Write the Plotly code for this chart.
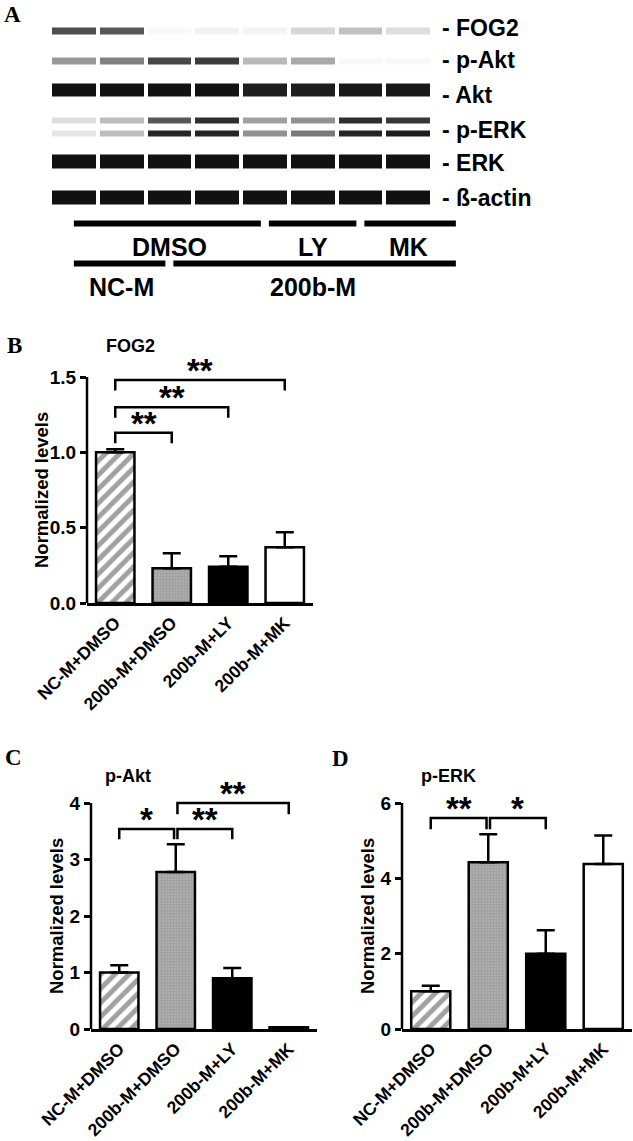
import plotly.graph_objects as go

W, H = 633, 1141
FONT = "Liberation Sans, Arial, sans-serif"
SERIF = "Liberation Serif, Times New Roman, serif"

# ---------------- data ----------------
categories = ["NC-M+DMSO", "200b-M+DMSO", "200b-M+LY", "200b-M+MK"]
fog2_mean = [1.00, 0.23, 0.24, 0.37]
fog2_err = [0.02, 0.10, 0.07, 0.10]
pakt_mean = [1.00, 2.78, 0.90, 0.03]
pakt_err = [0.13, 0.49, 0.18, 0.0]
perk_mean = [1.00, 4.43, 2.00, 4.38]
perk_err = [0.15, 0.74, 0.62, 0.76]

# significance brackets: (from category, to category, height, leg drop, label)
fog2_sig = [(0, 1, 1.13, 0.07, "**"), (0, 2, 1.30, 0.07, "**"), (0, 3, 1.48, 0.07, "**")]
pakt_sig = [(0, 0.97, 3.54, 0.18, "*"), (1.03, 2, 3.54, 0.18, "**"), (1.03, 3, 4.0, 0.2, "**")]
perk_sig = [(0, 0.97, 5.6, 0.3, "**"), (1.03, 2, 5.6, 0.3, "*")]

# western blot (band intensity 0..1 per lane)
lanes = [1, 2, 3, 4, 5, 6, 7, 8]
blot_labels = ["FOG2", "p-Akt", "Akt", "p-ERK", "ERK", "ß-actin"]
band_fog2 = [0.75, 0.72, 0.03, 0.06, 0.05, 0.18, 0.28, 0.15]
band_pakt = [0.45, 0.55, 0.78, 0.82, 0.32, 0.38, 0.03, 0.03]
band_akt = [1.0, 1.0, 1.0, 1.0, 0.95, 0.95, 0.97, 0.97]
band_perk44 = [0.15, 0.30, 0.72, 0.88, 0.42, 0.48, 0.88, 0.85]
band_perk42 = [0.12, 0.30, 0.92, 0.92, 0.48, 0.58, 0.92, 0.95]
band_erk = [1.0, 1.0, 1.0, 1.0, 1.0, 1.0, 1.0, 1.0]
band_actin = [1.0, 1.0, 1.0, 1.0, 1.0, 1.0, 1.0, 1.0]
treat_groups = [("DMSO", 1, 4), ("LY", 5, 6), ("MK", 7, 8)]
cell_groups = [("NC-M", 1, 2), ("200b-M", 3, 8)]

# ---------------- layout helpers ----------------
def px_x(p):
    return p / W

def px_y(p):
    return 1 - p / H

fig = go.Figure()

bar_colors = ["white", "white", "black", "white"]
pat_shape = ["/", ".", "", ""]
pat_size = [10, 3, 8, 8]
pat_sol = [0.5, 0.88, 0.3, 0.3]

panels = [
    dict(ax="", mean=fog2_mean, err=fog2_err, sig=fog2_sig, xd=(87, 313), y0=603, ytop=377,
         top=1.5, rng=1.62, tv=[0, 0.5, 1.0, 1.5], tt=["0.0", "0.5", "1.0", "1.5"],
         title="FOG2", tx=130, ty=346, letter="B", lx=14, ly=345, ytx=42),
    dict(ax="2", mean=pakt_mean, err=pakt_err, sig=pakt_sig, xd=(91, 317), y0=1029, ytop=803,
         top=4, rng=4.3, tv=[0, 1, 2, 3, 4], tt=["0", "1", "2", "3", "4"],
         title="p-Akt", tx=128, ty=776, letter="C", lx=13, ly=757, ytx=56),
    dict(ax="3", mean=perk_mean, err=perk_err, sig=perk_sig, xd=(402, 632), y0=1029, ytop=803,
         top=6, rng=6.45, tv=[0, 2, 4, 6], tt=["0", "2", "4", "6"],
         title="p-ERK", tx=448, ty=776, letter="D", lx=340, ly=758, ytx=367),
]

annotations = []
shapes = []
for p in panels:
    xa = "x" + p["ax"]
    ya = "y" + p["ax"]
    unit = (p["y0"] - p["ytop"]) / p["top"]
    top_px = p["y0"] - p["rng"] * unit
    fig.add_trace(go.Bar(
        x=list(range(len(categories))), y=p["mean"], width=0.68,
        marker=dict(color=bar_colors, line=dict(color="black", width=2.5),
                    pattern=dict(shape=pat_shape, size=pat_size, solidity=pat_sol,
                                 fgcolor="black")),
        error_y=dict(type="data", symmetric=False, array=p["err"],
                     arrayminus=[0] * len(p["err"]), color="black", thickness=2.5, width=9),
        xaxis=xa, yaxis=ya, showlegend=False, hoverinfo="skip"))
    for (a, b, h, d, lab) in p["sig"]:
        fig.add_trace(go.Scatter(
            x=[a, a, b, b], y=[h - d, h, h, h - d], mode="lines",
            line=dict(color="black", width=2.5), xaxis=xa, yaxis=ya,
            showlegend=False, hoverinfo="skip"))
        annotations.append(dict(
            x=(a + b) / 2, y=h, xref=xa, yref=ya, text=lab, showarrow=False,
            yanchor="bottom", yshift=-11,
            font=dict(family=FONT, size=33, color="black", weight="bold")))
    ax_key = "xaxis" + p["ax"]
    ay_key = "yaxis" + p["ax"]
    fig.layout[ax_key] = dict(
        domain=[px_x(p["xd"][0]), px_x(p["xd"][1])], range=[-0.5, 3.5],
        anchor=ya, showline=True, linecolor="black", linewidth=2.5, ticks="",
        tickvals=list(range(len(categories))), ticktext=categories, tickangle=-45,
        tickfont=dict(family=FONT, size=17.5, color="black", weight="bold"),
        showgrid=False, zeroline=False, fixedrange=True, automargin=False)
    fig.layout[ay_key] = dict(
        domain=[px_y(p["y0"]), px_y(top_px)], range=[0, p["rng"]], anchor=xa,
        showline=False, ticks="outside", ticklen=6, tickwidth=2.5, tickcolor="black",
        tickvals=p["tv"], ticktext=p["tt"],
        tickfont=dict(family=FONT, size=19, color="black", weight="bold"),
        showgrid=False, zeroline=False, fixedrange=True, automargin=False)
    shapes.append(dict(type="line", xref=xa + " domain", x0=0, x1=0, yref=ya,
                       y0=0, y1=p["top"], line=dict(color="black", width=2.5)))
    annotations.append(dict(x=px_x(p["tx"]), y=px_y(p["ty"]), xref="paper", yref="paper",
                            text=p["title"], showarrow=False, xanchor="center", yanchor="middle",
                            font=dict(family=FONT, size=18, color="black", weight="bold")))
    annotations.append(dict(x=px_x(p["lx"]), y=px_y(p["ly"]), xref="paper", yref="paper",
                            text=p["letter"], showarrow=False, xanchor="center", yanchor="middle",
                            font=dict(family=SERIF, size=23, color="black", weight="bold")))
    annotations.append(dict(x=px_x(p["ytx"]), y=px_y((p["y0"] + p["ytop"]) / 2), xref="paper",
                            yref="paper", text="Normalized levels", textangle=-90,
                            showarrow=False, xanchor="center", yanchor="middle",
                            font=dict(family=FONT, size=18.5, color="black", weight="bold")))

# ---------------- panel A: blot ----------------
bands = [band_fog2, band_pakt, band_akt, band_perk44, band_perk42, band_erk, band_actin]
band_center = [31, 60.5, 90, 120.5, 133, 161, 197]
band_half = [3.5, 3.5, 6.5, 3, 3, 7, 7]
edges = []
zrows = []
for i, (vals, c, h) in enumerate(zip(bands, band_center, band_half)):
    edges += [c - h, c + h]
    zrows.append(vals)
    if i < len(bands) - 1:
        zrows.append([None] * len(lanes))
lane_edges = [l - 0.5 for l in lanes] + [lanes[-1] + 0.5]
fig.add_trace(go.Heatmap(
    x=lane_edges, y=edges, z=zrows, zmin=0, zmax=1,
    colorscale=[[0, "white"], [0.3, "#bdbdbd"], [1, "#111111"]], showscale=False,
    xgap=4, ygap=0, xaxis="x4", yaxis="y4", hoverinfo="skip"))
blot_x0, blot_x1 = 50, 432
fig.layout["xaxis4"] = dict(domain=[px_x(blot_x0), px_x(blot_x1)], range=[0.5, 8.5],
                            anchor="y4", visible=False, fixedrange=True, automargin=False)
fig.layout["yaxis4"] = dict(domain=[px_y(215), px_y(15)], range=[215, 15],
                            anchor="x4", visible=False, fixedrange=True, automargin=False)

lane_w = (blot_x1 - blot_x0) / len(lanes)
def lane_px(l):
    return blot_x0 + (l - 0.5) * lane_w

label_y = [28, 60, 95, 130, 163, 198]
for lab, yy in zip(blot_labels, label_y):
    annotations.append(dict(x=px_x(440), y=px_y(yy), xref="paper", yref="paper",
                            text="- " + lab, showarrow=False, xanchor="left", yanchor="middle",
                            font=dict(family=FONT, size=23, color="black", weight="bold")))

def group_rows(groups, line_y, text_y):
    for name, a, b in groups:
        x0 = lane_px(a) + (4 if a > 1 else 0)
        x1 = lane_px(b + 1) - (4 if b < len(lanes) else 0)
        shapes.append(dict(type="line", xref="paper", yref="paper",
                           x0=px_x(x0), x1=px_x(x1), y0=px_y(line_y), y1=px_y(line_y),
                           line=dict(color="black", width=6)))
        annotations.append(dict(x=px_x((lane_px(a) + lane_px(b + 1)) / 2), y=px_y(text_y),
                                xref="paper", yref="paper", text=name, showarrow=False,
                                xanchor="center", yanchor="middle",
                                font=dict(family=FONT, size=25, color="black", weight="bold")))

group_rows(treat_groups, 223.5, 247)
group_rows(cell_groups, 263.5, 287)
annotations.append(dict(x=px_x(12), y=px_y(15), xref="paper", yref="paper", text="A",
                        showarrow=False, xanchor="center", yanchor="middle",
                        font=dict(family=SERIF, size=23, color="black", weight="bold")))

fig.update_layout(width=W, height=H, margin=dict(l=0, r=0, t=0, b=0, autoexpand=False),
                  paper_bgcolor="white", plot_bgcolor="white",
                  annotations=annotations, shapes=shapes, showlegend=False)

fig.write_html("out.html", config={"displayModeBar": False},
               post_script="document.body.style.margin='0';")
